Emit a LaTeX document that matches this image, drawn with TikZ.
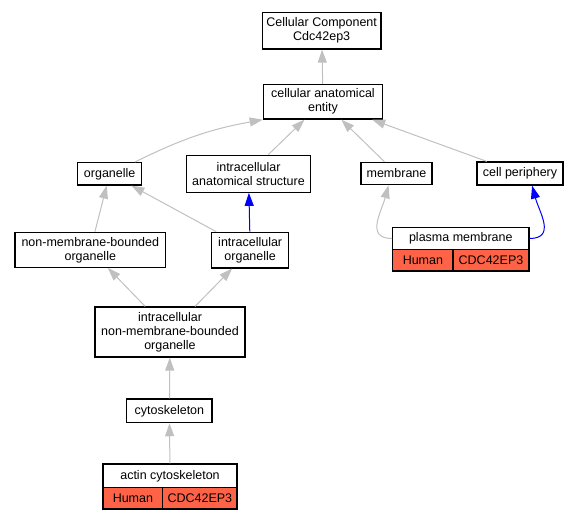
\documentclass[tikz,border=0pt]{standalone}
\usepackage{fontspec}
\setmainfont{Liberation Sans}
\usetikzlibrary{arrows.meta}
\definecolor{isagray}{HTML}{C0C0C0}
\definecolor{hitred}{HTML}{FF6347}

\begin{document}
\begin{tikzpicture}[x=1pt,y=-1pt]
                    \useasboundingbox (0,0) rectangle (579,520);
                    \begin{scope}[every node/.style={rectangle,draw=black,line width=1.2pt,fill=white,inner sep=0pt,align=center,font=\fontsize{12.5}{14}\selectfont}]
                        \node[minimum width=118.7pt,minimum height=36.7pt] (CC) at (321.7,30.7) {Cellular Component\\Cdc42ep3};
                        \node[minimum width=119.4pt,minimum height=34.7pt] (CAE) at (323,101.7) {cellular anatomical\\entity};
                        \node[minimum width=64pt,minimum height=22.4pt] (ORG) at (109.7,173.8) {organelle};
                        \node[minimum width=124.7pt,minimum height=37pt] (IAS) at (248.5,173.8) {intracellular\\anatomical structure};
                        \node[minimum width=71pt,minimum height=22.4pt] (MEM) at (396.5,173.5) {membrane};
                        \node[minimum width=86pt,minimum height=23pt] (CP) at (520,173.5) {cell periphery};
                        \node[minimum width=150.7pt,minimum height=35pt] (NMBO) at (90.3,249.8) {non-membrane-bounded\\organelle};
                        \node[minimum width=77pt,minimum height=35.7pt] (IO) at (250.2,250.1) {intracellular\\organelle};
                        \node[minimum width=136.3pt,minimum height=21.6pt] (PM) at (460.8,238.5) {plasma membrane};
                        \node[minimum width=60.3pt,minimum height=21.7pt,fill=hitred] (PMH) at (422.9,260.2) {Human};
                        \node[minimum width=76pt,minimum height=21.7pt,fill=hitred] (PMG) at (491,260.2) {CDC42EP3};
                        \node[minimum width=150pt,minimum height=50pt] (INMBO) at (170,332) {intracellular\\non-membrane-bounded\\organelle};
                        \node[minimum width=85.3pt,minimum height=23.7pt] (CYTO) at (169.4,410.8) {cytoskeleton};
                        \node[minimum width=134pt,minimum height=23.7pt] (AC) at (170,475.9) {actin cytoskeleton};
                        \node[minimum width=59.7pt,minimum height=21.3pt,fill=hitred] (ACH) at (132.9,498.3) {Human};
                        \node[minimum width=74.3pt,minimum height=21.3pt,fill=hitred] (ACG) at (199.9,498.3) {CDC42EP3};
                    \end{scope}
                    \begin{scope}[every edge/.style={draw=isagray,line width=1pt,-{Triangle[length=13pt,width=9pt]}}]
                        \draw (CAE) edge (CC);
                        \draw (ORG.25) edge [bend left=8] (CAE.south west);
                        \draw (IAS) edge (CAE);
                        \draw (MEM) edge (CAE);
                        \draw (CP) edge (CAE);
                        \draw (NMBO) edge (ORG);
                        \draw (IO) edge (ORG);
                        \draw (IO) edge [draw=blue] (IAS);
                        \draw (PM.west) edge [out=180,in=-105,looseness=1.3] (MEM.236);
                        \draw (PM.east) edge [draw=blue,out=0,in=-75,looseness=1.3] (CP.-45);
                        \draw (INMBO) edge (NMBO);
                        \draw (INMBO) edge (IO);
                        \draw (CYTO) edge (INMBO);
                        \draw (AC) edge (CYTO);
                    \end{scope}
                \end{tikzpicture}
\end{document}
